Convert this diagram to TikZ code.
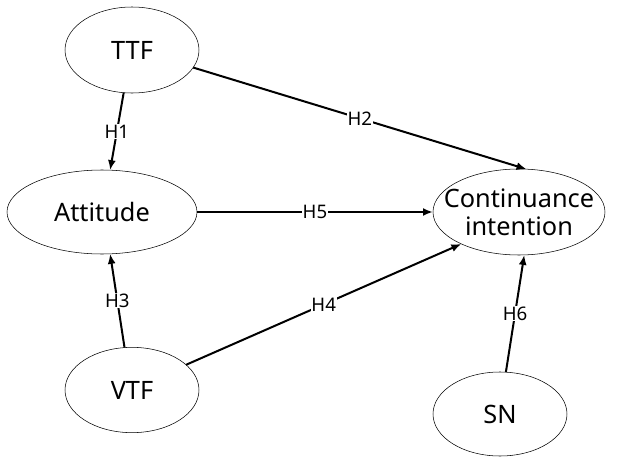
\documentclass[tikz,border=0pt]{standalone}
\usepackage{fontspec}
\setmainfont{Noto Sans}
\usetikzlibrary{shapes.geometric,arrows.meta}

\begin{document}
\begin{tikzpicture}[x=0.75pt, y=-0.75pt]

    \useasboundingbox (0,0) rectangle (619,457);

    \begin{scope}[every node/.style={ellipse, draw, thin, inner sep=0pt, inner xsep=-12pt, outer sep=0pt, align=center, font=\fontsize{19}{21}\selectfont}]
        \node[minimum width=100.5pt, minimum height=64.5pt] (ttf) at (132,50) {TTF};
        \node[minimum width=142.5pt, minimum height=63pt] (att) at (102,212) {Attitude};
        \node[minimum width=129pt, minimum height=64.5pt] (ci) at (519,212) {Continuance\\intention};
        \node[minimum width=100.5pt, minimum height=64pt] (vtf) at (132,390) {VTF};
        \node[minimum width=100.5pt, minimum height=63pt] (sn) at (500,414) {SN};
    \end{scope}

    \begin{scope}[every edge/.style={draw, line width=1.5pt, -{Latex[length=7.5pt, width=6pt]}},
                  every node/.style={fill=white, inner sep=0.5pt, font=\fontsize{14}{16}\selectfont}]
        \path (ttf.-101) edge node {H1} (att.79);
        \path (ttf.-16) edge node {H2} (ci.80);
        \path (vtf.100) edge node {H3} (att.-79);
        \path (vtf.25) edge node {H4} (ci.-151);
        \path (att.east) edge node {H5} (ci.west);
        \path (sn.82) edge node {H6} (ci.-83);
    \end{scope}

\end{tikzpicture}
\end{document}
